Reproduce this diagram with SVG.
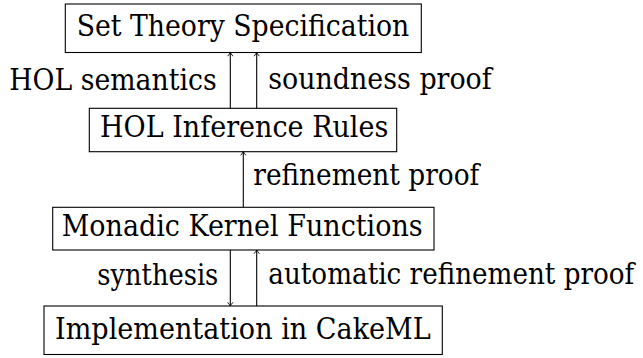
<svg xmlns="http://www.w3.org/2000/svg" width="643" height="358" viewBox="0 0 643 358">
<style>
.box{fill:#fff;stroke:#000;stroke-width:1.1}
.t{font-family:"DejaVu Serif","Noto Serif","Liberation Serif",serif;font-size:30px;fill:#000}
.edge{stroke:#000;stroke-width:1.1;fill:none;marker-end:url(#tip)}
</style>
<defs>
<marker id="tip" markerUnits="userSpaceOnUse" viewBox="-5 -4 6 8" markerWidth="6" markerHeight="8" refX="0" refY="0" orient="auto" overflow="visible">
<path d="M-3.4,-2.4 Q-1.2,-0.6 0,0 Q-1.2,0.6 -3.4,2.4" fill="none" stroke="#000" stroke-width="0.9" stroke-linecap="round"/>
</marker>
</defs>
<g id="n1">
<rect class="box" x="65.3" y="4" width="356" height="48.5"/>
<text class="t" transform="translate(76.7 36) scale(0.87 1)" textLength="382.3" lengthAdjust="spacingAndGlyphs">Set Theory Specification</text>
</g>
<g id="n2">
<rect class="box" x="89.3" y="108.3" width="307.4" height="43.4"/>
<text class="t" transform="translate(100 137.3) scale(0.87 1)" textLength="331.4" lengthAdjust="spacingAndGlyphs">HOL Inference Rules</text>
</g>
<g id="n3">
<rect class="box" x="52.7" y="207.3" width="381.3" height="42.7"/>
<text class="t" transform="translate(61.7 235.8) scale(0.87 1)" textLength="414.9" lengthAdjust="spacingAndGlyphs">Monadic Kernel Functions</text>
</g>
<g id="n4">
<rect class="box" x="44" y="306" width="398.3" height="48.5"/>
<text class="t" transform="translate(55 339.3) scale(0.87 1)" textLength="431.8" lengthAdjust="spacingAndGlyphs">Implementation in CakeML</text>
</g>
<g id="connectors">
<line class="edge" x1="230.3" y1="108.3" x2="230.3" y2="52.5"/>
<line class="edge" x1="256.7" y1="108.3" x2="256.7" y2="52.5"/>
<line class="edge" x1="243.3" y1="207.3" x2="243.3" y2="151.7"/>
<line class="edge" x1="230.3" y1="250" x2="230.3" y2="306"/>
<line class="edge" x1="256.7" y1="306" x2="256.7" y2="250"/>
<text class="t" transform="translate(9.3 90) scale(0.87 1)" textLength="238.4" lengthAdjust="spacingAndGlyphs">HOL semantics</text>
<text class="t" transform="translate(268.3 88.5) scale(0.87 1)" textLength="256.8" lengthAdjust="spacingAndGlyphs">soundness proof</text>
<text class="t" transform="translate(253.3 185) scale(0.87 1)" textLength="259.8" lengthAdjust="spacingAndGlyphs">refinement proof</text>
<text class="t" transform="translate(97.3 285) scale(0.87 1)" textLength="139.1" lengthAdjust="spacingAndGlyphs">synthesis</text>
<text class="t" transform="translate(268.3 283.8) scale(0.87 1)" textLength="420.7" lengthAdjust="spacingAndGlyphs">automatic refinement proof</text>
</g>
</svg>
